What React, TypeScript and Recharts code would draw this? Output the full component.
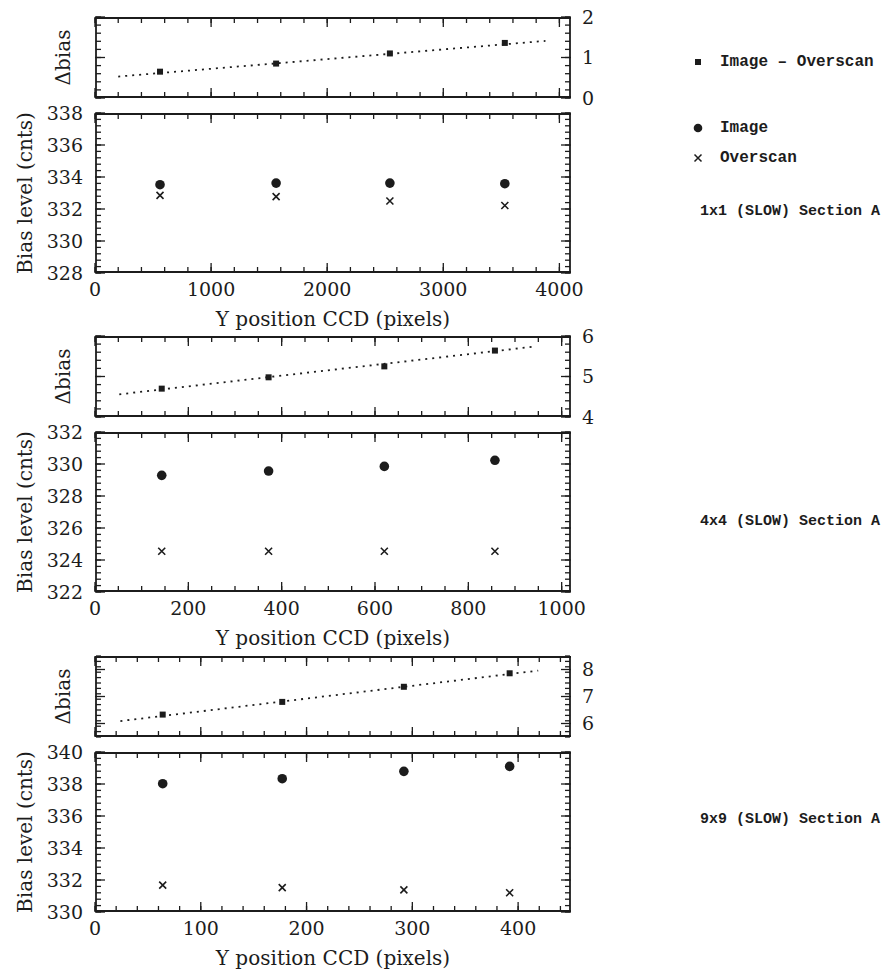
import { ScatterChart, Scatter, XAxis, YAxis } from 'recharts'

const INK = '#1c1c1c'
const SERIF = '"DejaVu Serif", "Liberation Serif", serif'
const MONO = '"Liberation Mono", "DejaVu Sans Mono", monospace'

// 1x1 (SLOW) Section A
const ypos1 = [560, 1560, 2540, 3530]
const image1 = [333.52, 333.62, 333.62, 333.58]
const overscan1 = [332.85, 332.77, 332.5, 332.22]
const dbias1 = [0.65, 0.85, 1.1, 1.36]
const fitX1 = [200, 3880]
const fitY1 = [0.53, 1.41]
const xTicks1 = [0, 1000, 2000, 3000, 4000]
const biasTicks1 = [328, 330, 332, 334, 336, 338]
const dTicks1 = [0, 1, 2]

// 4x4 (SLOW) Section A
const ypos4 = [143, 372, 620, 857]
const image4 = [329.29, 329.56, 329.85, 330.23]
const overscan4 = [324.55, 324.55, 324.55, 324.55]
const dbias4 = [4.7, 4.98, 5.25, 5.64]
const fitX4 = [52, 942]
const fitY4 = [4.56, 5.74]
const xTicks4 = [0, 200, 400, 600, 800, 1000]
const biasTicks4 = [322, 324, 326, 328, 330, 332]
const dTicks4 = [4, 5, 6]

// 9x9 (SLOW) Section A
const ypos9 = [64, 177, 292, 392]
const image9 = [338.02, 338.33, 338.79, 339.1]
const overscan9 = [331.68, 331.52, 331.38, 331.2]
const dbias9 = [6.33, 6.8, 7.36, 7.86]
const fitX9 = [24, 419]
const fitY9 = [6.09, 7.96]
const xTicks9 = [0, 100, 200, 300, 400]
const biasTicks9 = [330, 332, 334, 336, 338, 340]
const dTicks9 = [6, 7, 8]

const panels = [
  { name: '1x1 (SLOW) Section A', ypos: ypos1, image: image1, overscan: overscan1, dbias: dbias1, fitX: fitX1, fitY: fitY1, xTicks: xTicks1, xMax: 4100, xStep: 200, biasTicks: biasTicks1, dTicks: dTicks1, dDomain: [0, 2], top: 0, nameY: 212 },
  { name: '4x4 (SLOW) Section A', ypos: ypos4, image: image4, overscan: overscan4, dbias: dbias4, fitX: fitX4, fitY: fitY4, xTicks: xTicks4, xMax: 1020, xStep: 50, biasTicks: biasTicks4, dTicks: dTicks4, dDomain: [4, 6], top: 319, nameY: 522 },
  { name: '9x9 (SLOW) Section A', ypos: ypos9, image: image9, overscan: overscan9, dbias: dbias9, fitX: fitX9, fitY: fitY9, xTicks: xTicks9, xMax: 450, xStep: 20, biasTicks: biasTicks9, dTicks: dTicks9, dDomain: [5.5, 8.5], top: 639, nameY: 820 },
]

const range = (a: number, b: number, s: number) => {
  const out: number[] = []
  for (let i = 0; a + i * s <= b + 1e-9; i++) out.push(Math.round((a + i * s) * 1000) / 1000)
  return out
}

const AXIS = { stroke: INK, strokeWidth: 1.8 }
const TL = { stroke: INK, strokeWidth: 1.3 }
const TICK_TEXT = { fill: INK, fontSize: 19, fontFamily: SERIF }
const NoTick = () => <g />

// inward tick marks on all four sides: short minor, long major
function xTickAxes(dom: number[], minor: number[], major: number[]) {
  return (['top', 'bottom'] as const).flatMap((side) => [
    <XAxis key={side + 'm'} xAxisId={side + 'm'} type="number" dataKey="x" domain={dom} allowDataOverflow orientation={side} mirror height={1} ticks={minor} interval={0} tick={NoTick} tickSize={5} tickLine={TL} axisLine={AXIS} />,
    <XAxis key={side + 'M'} xAxisId={side + 'M'} type="number" dataKey="x" domain={dom} allowDataOverflow orientation={side} mirror height={1} ticks={major} interval={0} tick={NoTick} tickSize={10} tickLine={TL} axisLine={false} />,
  ])
}

function yTickAxes(dom: number[], minor: number[], major: number[]) {
  return (['left', 'right'] as const).flatMap((side) => [
    <YAxis key={side + 'm'} yAxisId={side + 'm'} type="number" dataKey="y" domain={dom} allowDataOverflow orientation={side} mirror width={1} ticks={minor} interval={0} tick={NoTick} tickSize={5} tickLine={TL} axisLine={AXIS} />,
    <YAxis key={side + 'M'} yAxisId={side + 'M'} type="number" dataKey="y" domain={dom} allowDataOverflow orientation={side} mirror width={1} ticks={major} interval={0} tick={NoTick} tickSize={10} tickLine={TL} axisLine={false} />,
  ])
}

function vTitle(text: string, cxOff: number) {
  return (props: any) => {
    const vb = props.viewBox || {}
    const cx = vb.x + cxOff
    const cy = vb.y + vb.height / 2
    return (
      <text x={cx} y={cy} transform={`rotate(-90 ${cx} ${cy})`} textAnchor="middle" dominantBaseline="central" fill={INK} fontSize={20} fontFamily={SERIF}>
        {text}
      </text>
    )
  }
}

function xTitle(text: string) {
  return (props: any) => {
    const vb = props.viewBox || {}
    return (
      <text x={vb.x + vb.width / 2} y={vb.y + 46} textAnchor="middle" dominantBaseline="central" fill={INK} fontSize={20} fontFamily={SERIF}>
        {text}
      </text>
    )
  }
}

const Square = (p: any) => <rect x={p.cx - 3} y={p.cy - 3} width={6} height={6} fill={INK} />
const Dot = (p: any) => <circle cx={p.cx} cy={p.cy} r={4.8} fill={INK} />
const Cross = (p: any) => (
  <path
    d={`M${p.cx - 3.5},${p.cy - 3.5}L${p.cx + 3.5},${p.cy + 3.5}M${p.cx + 3.5},${p.cy - 3.5}L${p.cx - 3.5},${p.cy + 3.5}`}
    stroke={INK}
    strokeWidth={1.6}
  />
)
const NoMark = () => <g />

type Panel = (typeof panels)[number]

function DeltaChart({ p }: { p: Panel }) {
  const pts = p.ypos.map((x, i) => ({ x, y: p.dbias[i] }))
  const fit = p.fitX.map((x, i) => ({ x, y: p.fitY[i] }))
  const xDom = [0, p.xMax]
  return (
    <ScatterChart width={600} height={105} margin={{ top: 12, right: 0, bottom: 12, left: 0 }}>
      {xTickAxes(xDom, range(0, p.xMax, p.xStep), p.xTicks)}
      {yTickAxes(p.dDomain, range(p.dDomain[0], p.dDomain[1], 0.2), p.dTicks)}
      <YAxis yAxisId="lab" type="number" dataKey="y" domain={p.dDomain} allowDataOverflow orientation="left" width={95} tick={false} tickLine={false} axisLine={false} label={vTitle('Δbias', 63)} />
      <YAxis yAxisId="y" type="number" dataKey="y" domain={p.dDomain} allowDataOverflow orientation="right" width={29} ticks={p.dTicks} interval={0} tickLine={false} tickSize={6} tickMargin={5} tick={TICK_TEXT} axisLine={false} />
      <Scatter xAxisId="bottomM" yAxisId="y" data={fit} shape={NoMark} line={{ stroke: INK, strokeWidth: 1.8, strokeDasharray: '2 5' }} isAnimationActive={false} />
      <Scatter xAxisId="bottomM" yAxisId="y" data={pts} shape={Square} isAnimationActive={false} />
    </ScatterChart>
  )
}

function BiasChart({ p }: { p: Panel }) {
  const img = p.ypos.map((x, i) => ({ x, y: p.image[i] }))
  const ovs = p.ypos.map((x, i) => ({ x, y: p.overscan[i] }))
  const xDom = [0, p.xMax]
  const yDom = [p.biasTicks[0], p.biasTicks[p.biasTicks.length - 1]]
  return (
    <ScatterChart width={600} height={232} margin={{ top: 12, right: 29, bottom: 0, left: 0 }}>
      {xTickAxes(xDom, range(0, p.xMax, p.xStep), p.xTicks)}
      {yTickAxes(yDom, range(yDom[0], yDom[1], 0.4), p.biasTicks)}
      <XAxis xAxisId="x" type="number" dataKey="x" domain={xDom} allowDataOverflow orientation="bottom" height={60} ticks={p.xTicks} interval={0} tickLine={false} tickSize={6} tickMargin={4} tick={TICK_TEXT} axisLine={false} label={xTitle('Y position CCD (pixels)')} />
      <YAxis yAxisId="y" type="number" dataKey="y" domain={yDom} allowDataOverflow orientation="left" width={95} ticks={p.biasTicks} interval={0} tickLine={false} tickSize={6} tickMargin={6} tick={TICK_TEXT} axisLine={false} label={vTitle('Bias level (cnts)', 25)} />
      <Scatter xAxisId="x" yAxisId="y" data={img} shape={Dot} isAnimationActive={false} />
      <Scatter xAxisId="x" yAxisId="y" data={ovs} shape={Cross} isAnimationActive={false} />
    </ScatterChart>
  )
}

const legendText = { position: 'absolute' as const, fontFamily: MONO, fontWeight: 700, fontSize: 16, color: INK, lineHeight: '20px', whiteSpace: 'nowrap' as const, transform: 'translateY(-50%)' }

export default function App() {
  return (
    <div style={{ position: 'absolute', left: 0, top: 0, width: 888, height: 971, background: '#fff' }}>
      {panels.map((p) => (
        <div key={p.name}>
          <div style={{ position: 'absolute', left: 0, top: p.top + 5 }}>
            <DeltaChart p={p} />
          </div>
          <div style={{ position: 'absolute', left: 0, top: p.top + 101 }}>
            <BiasChart p={p} />
          </div>
          <div style={{ ...legendText, left: 700, top: p.nameY, fontSize: 15 }}>{p.name}</div>
        </div>
      ))}
      <svg style={{ position: 'absolute', left: 690, top: 50 }} width={16} height={120}>
        <rect x={5} y={9} width={6} height={6} fill={INK} />
        <circle cx={8} cy={78} r={4.3} fill={INK} />
        <path d="M4.5,104.5L11.5,111.5M11.5,104.5L4.5,111.5" stroke={INK} strokeWidth={1.5} />
      </svg>
      <div style={{ ...legendText, left: 720, top: 62 }}>Image – Overscan</div>
      <div style={{ ...legendText, left: 720, top: 128 }}>Image</div>
      <div style={{ ...legendText, left: 720, top: 158 }}>Overscan</div>
    </div>
  )
}
